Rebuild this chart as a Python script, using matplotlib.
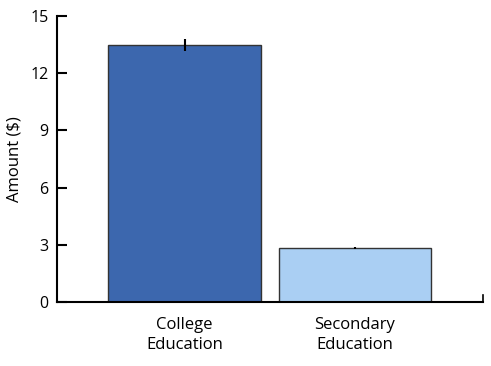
import matplotlib
matplotlib.use("Agg")
import matplotlib.pyplot as plt

categories = ["College\nEducation", "Secondary\nEducation"]
values = [13.48, 2.83]
errors = [0.3, 0.05]
colors = ["#3c67ae", "#aacff3"]
yticks = [0, 3, 6, 9, 12, 15]

plt.rcParams['font.family'] = ['Open Sans', 'DejaVu Sans']

fig = plt.figure(figsize=(4.91, 3.66), dpi=100)
ax = fig.add_axes([57/491, 64/366, 426/491, 286/366])

x = list(range(len(categories)))
ax.bar(x, values, width=0.897, color=colors, edgecolor="#333333", linewidth=1.0, zorder=2)
ax.errorbar(x, values, yerr=errors, fmt='none', ecolor='black', elinewidth=1.5, capsize=0, zorder=3)

ax.set_xlim(-0.748, 1.751)
ax.set_ylim(0, 15)
ax.set_yticks(yticks)
ax.set_yticklabels([str(t) for t in yticks], fontsize=11.5)
ax.set_xticks(x)
ax.set_xticklabels(categories, fontsize=12, linespacing=1.3)
ax.tick_params(axis='x', length=0, pad=11)
ax.tick_params(axis='y', direction='in', length=7, width=1.5, pad=6)
ax.set_ylabel("Amount ($)", fontsize=12, labelpad=6)

ax.spines['top'].set_visible(False)
ax.spines['right'].set_visible(True)
ax.spines['right'].set_bounds(0, 0.35)
for s in ['left', 'bottom', 'right']:
    ax.spines[s].set_linewidth(1.5)
ax.spines['right'].set_linewidth(1.2)

fig.savefig("out.png", dpi=100)
